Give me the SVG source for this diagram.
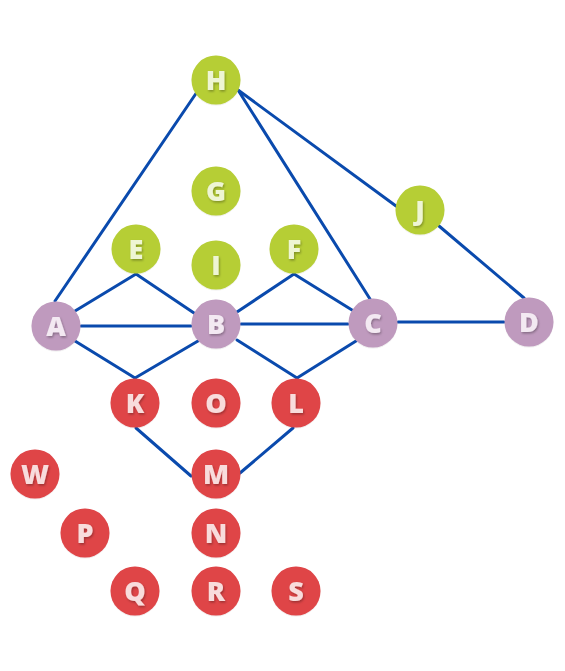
<svg xmlns="http://www.w3.org/2000/svg" width="565" height="671" viewBox="0 0 565 671">
<defs>
<filter id="ts" x="-50%" y="-50%" width="200%" height="200%">
<feDropShadow dx="1" dy="1.5" stdDeviation="1.2" flood-color="#000" flood-opacity="0.3"/>
</filter>
<filter id="cs" x="-20%" y="-20%" width="140%" height="140%">
<feDropShadow dx="0" dy="0.5" stdDeviation="0.6" flood-color="#000" flood-opacity="0.15"/>
</filter>
</defs>
<style>
.e{stroke:#0a4aad;stroke-width:3;fill:none;stroke-linecap:round}
circle{filter:url(#cs)}
.g circle{fill:#b6ce35}
.p circle{fill:#bf9abe}
.r circle{fill:#df4447}
text{font-family:"Open Sans","DejaVu Sans",sans-serif;font-weight:800;font-size:27px;text-anchor:middle;filter:url(#ts)}
.g text{fill:#eef5d4}
.p text{fill:#f3e9f2}
.r text{fill:#f8dcdc}
</style>
<rect width="565" height="671" fill="#fff"/>
<g id="edges">
<line class="e" x1="197" y1="92" x2="55" y2="301"/>
<line class="e" x1="238" y1="90" x2="370" y2="299"/>
<line class="e" x1="238" y1="90" x2="396" y2="206"/>
<line class="e" x1="439" y1="226" x2="524" y2="298"/>
<line class="e" x1="75" y1="311" x2="136" y2="274"/>
<line class="e" x1="136" y1="274" x2="194" y2="313"/>
<line class="e" x1="81" y1="326" x2="191" y2="326"/>
<line class="e" x1="75" y1="341" x2="135" y2="378"/>
<line class="e" x1="198" y1="341" x2="135" y2="378"/>
<line class="e" x1="237" y1="312" x2="294" y2="274"/>
<line class="e" x1="294" y1="274" x2="352" y2="310"/>
<line class="e" x1="241" y1="324" x2="348" y2="324"/>
<line class="e" x1="237" y1="340" x2="297" y2="378"/>
<line class="e" x1="356" y1="341" x2="297" y2="378"/>
<line class="e" x1="398" y1="322" x2="504" y2="322"/>
<line class="e" x1="136" y1="428" x2="191" y2="476"/>
<line class="e" x1="293" y1="428" x2="240" y2="473"/>
</g>
<g id="H" class="g"><circle cx="216" cy="80" r="24.5"/><text x="216" y="89.5">H</text></g>
<g id="G" class="g"><circle cx="216" cy="191" r="24.5"/><text x="216" y="200.5">G</text></g>
<g id="E" class="g"><circle cx="136" cy="249" r="24.5"/><text x="136" y="258.5">E</text></g>
<g id="I" class="g"><circle cx="216" cy="265" r="24.5"/><text x="216" y="274.5">I</text></g>
<g id="F" class="g"><circle cx="294" cy="249" r="24.5"/><text x="294" y="258.5">F</text></g>
<g id="J" class="g"><circle cx="420" cy="210" r="24.5"/><text x="420" y="219.5">J</text></g>
<g id="A" class="p"><circle cx="56" cy="326" r="24.5"/><text x="56" y="335.5">A</text></g>
<g id="B" class="p"><circle cx="216" cy="324" r="24.5"/><text x="216" y="333.5">B</text></g>
<g id="C" class="p"><circle cx="373" cy="323" r="24.5"/><text x="373" y="332.5">C</text></g>
<g id="D" class="p"><circle cx="529" cy="322" r="24.5"/><text x="529" y="331.5">D</text></g>
<g id="K" class="r"><circle cx="135" cy="403" r="24.5"/><text x="135" y="412.5">K</text></g>
<g id="O" class="r"><circle cx="216" cy="403" r="24.5"/><text x="216" y="412.5">O</text></g>
<g id="L" class="r"><circle cx="296" cy="403" r="24.5"/><text x="296" y="412.5">L</text></g>
<g id="W" class="r"><circle cx="35" cy="474" r="24.5"/><text x="35" y="483.5">W</text></g>
<g id="M" class="r"><circle cx="216" cy="474" r="24.5"/><text x="216" y="483.5">M</text></g>
<g id="P" class="r"><circle cx="85" cy="533" r="24.5"/><text x="85" y="542.5">P</text></g>
<g id="N" class="r"><circle cx="216" cy="533" r="24.5"/><text x="216" y="542.5">N</text></g>
<g id="Q" class="r"><circle cx="135" cy="591" r="24.5"/><text x="135" y="600.5">Q</text></g>
<g id="R" class="r"><circle cx="216" cy="591" r="24.5"/><text x="216" y="600.5">R</text></g>
<g id="S" class="r"><circle cx="296" cy="591" r="24.5"/><text x="296" y="600.5">S</text></g>
</svg>
